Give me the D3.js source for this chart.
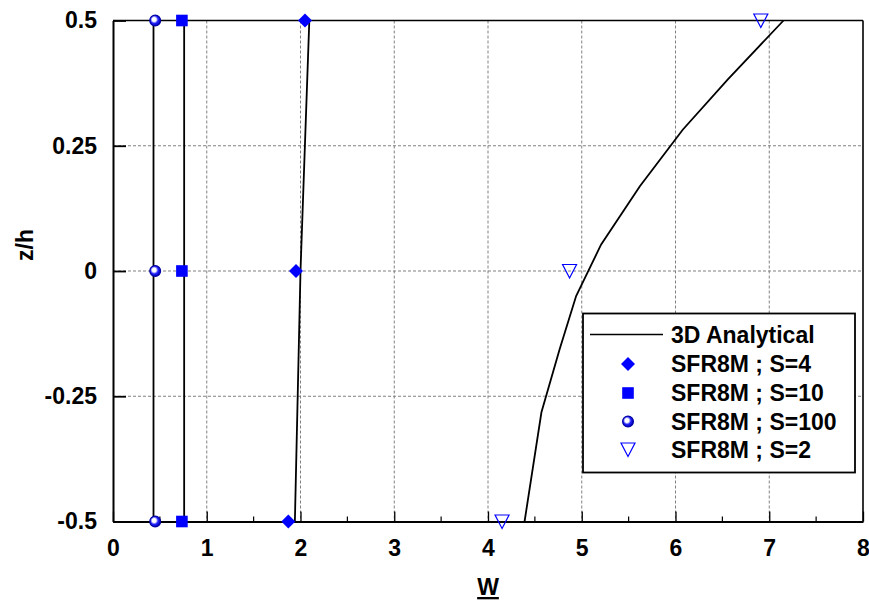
<!DOCTYPE html>
<html><head><meta charset="utf-8">
<script src="https://cdn.jsdelivr.net/npm/d3@7"></script>
<style>
body{margin:0;background:#fff;}
text{font-family:Arial,"Liberation Sans",sans-serif;font-weight:bold;}
</style></head>
<body>
<svg id="chart" width="869" height="601"></svg>
<script>
// ---- data ----
const xTicks = [0,1,2,3,4,5,6,7,8];
const yTicks = [-0.5,-0.25,0,0.25,0.5];
const yTickLabels = ["-0.5","-0.25","0","0.25","0.5"];
const zLevels = [-0.5, 0, 0.5];

// 3D analytical lines
const anaS100 = [[0.432,-0.5],[0.432,0],[0.432,0.5]];
const anaS10  = [[0.759,-0.5],[0.759,0],[0.759,0.5]];
const anaS4   = [[1.94,-0.5],[2.0,0],[2.094,0.5]];
const anaS2   = [[4.39,-0.5],[4.57,-0.282],[4.764,-0.156],[4.94,-0.05],[5.207,0.053],[5.62,0.169],[6.077,0.282],[6.556,0.382],[7.152,0.5]];

// SFR8M results (w at z/h = -0.5, 0, 0.5)
const sfrS4   = [1.87, 1.952, 2.048];
const sfrS10  = [0.735, 0.735, 0.735];
const sfrS100 = [0.45, 0.45, 0.45];
const sfrS2   = [4.15, 4.87, 6.91];

const legendLabels = ["3D Analytical","SFR8M ; S=4","SFR8M ; S=10","SFR8M ; S=100","SFR8M ; S=2"];

// ---- layout ----
const svg = d3.select("#chart");
const L = 113, R = 863, T = 20.5, B = 521.5;
const x = d3.scaleLinear().domain([0,8]).range([L,R]);
const y = d3.scaleLinear().domain([-0.5,0.5]).range([B,T]);
const blue = "#0000ff";
const FS = 23;

const defs = svg.append("defs");
const rg = defs.append("radialGradient").attr("id","ball").attr("cx","42%").attr("cy","42%").attr("r","60%")
  .attr("fx","40%").attr("fy","40%");
rg.append("stop").attr("offset","0%").attr("stop-color","#ffffff");
rg.append("stop").attr("offset","30%").attr("stop-color","#ffffff");
rg.append("stop").attr("offset","60%").attr("stop-color","#2020ff");
rg.append("stop").attr("offset","100%").attr("stop-color","#0000b0");

// grid
const grid = svg.append("g");
grid.selectAll("line.gx").data(xTicks.filter(d=>d>0&&d<8)).enter().append("line")
  .attr("x1",d=>x(d)).attr("x2",d=>x(d)).attr("y1",T).attr("y2",B)
  .attr("stroke","#808080").attr("stroke-width",1).attr("stroke-dasharray","3,2");
grid.selectAll("line.gy").data(yTicks.filter(d=>d>-0.5&&d<0.5)).enter().append("line")
  .attr("x1",L).attr("x2",R).attr("y1",d=>y(d)).attr("y2",d=>y(d))
  .attr("stroke","#808080").attr("stroke-width",1).attr("stroke-dasharray","3,2");

// frame top/right
svg.append("line").attr("x1",L).attr("x2",R).attr("y1",T).attr("y2",T).attr("stroke","#000").attr("stroke-width",1.6);
svg.append("line").attr("x1",R).attr("x2",R).attr("y1",T).attr("y2",B).attr("stroke","#000").attr("stroke-width",1.6);

// axes
const xAxis = d3.axisBottom(x).tickValues(xTicks).tickSizeInner(-10).tickSizeOuter(0).tickPadding(18).tickFormat(d3.format("d"));
const gx = svg.append("g").attr("transform",`translate(0,${B})`).call(xAxis);
gx.select(".domain").attr("stroke-width",2);
gx.selectAll(".tick line").attr("stroke-width",1.3);
gx.selectAll(".tick text").attr("font-size",FS).attr("font-weight","bold").attr("fill","#000")
  .attr("font-family","Arial, 'Liberation Sans', sans-serif");
// minor x ticks
const minorX = d3.range(0.5,8,1);
svg.append("g").selectAll("line").data(minorX).enter().append("line")
  .attr("x1",d=>x(d)).attr("x2",d=>x(d)).attr("y1",B).attr("y2",B-5).attr("stroke","#000").attr("stroke-width",1.2);

const yAxis = d3.axisLeft(y).tickValues(yTicks).tickSizeInner(-13).tickSizeOuter(0).tickPadding(16)
  .tickFormat((d,i)=>yTickLabels[i]);
const gy = svg.append("g").attr("transform",`translate(${L},0)`).call(yAxis);
gy.select(".domain").attr("stroke-width",2);
gy.selectAll(".tick line").attr("stroke-width",1.8);
gy.selectAll(".tick text").attr("font-size",FS).attr("font-weight","bold").attr("fill","#000")
  .attr("font-family","Arial, 'Liberation Sans', sans-serif");

// axis titles
svg.append("text").attr("x",(L+R)/2).attr("y",595).attr("text-anchor","middle")
  .attr("font-size",FS).attr("text-decoration","underline").text("W");
svg.append("text").attr("transform","translate(33,245) rotate(-90)").attr("text-anchor","middle")
  .attr("font-size",FS).text("z/h");

// analytical lines
const line = d3.line().x(d=>x(d[0])).y(d=>y(d[1]));
[anaS100, anaS10, anaS4, anaS2].forEach(a=>{
  svg.append("path").attr("d",line(a)).attr("fill","none").attr("stroke","#000").attr("stroke-width",1.8);
});

// markers
function drawDiamond(g,cx,cy){
  g.append("path").attr("d","M0,-7L7,0L0,7L-7,0Z").attr("transform",`translate(${cx},${cy})`).attr("fill",blue);
}
function drawSquare(g,cx,cy){
  g.append("rect").attr("x",cx-5.8).attr("y",cy-5.8).attr("width",11.6).attr("height",11.6).attr("fill",blue);
}
function drawBall(g,cx,cy){
  g.append("circle").attr("cx",cx).attr("cy",cy).attr("r",5.4).attr("fill","url(#ball)").attr("stroke","#0000a0").attr("stroke-width",1.2);
}
function drawTri(g,cx,cy){
  g.append("path").attr("d","M-7,-6.5L7,-6.5L0,7Z").attr("transform",`translate(${cx},${cy})`)
    .attr("fill","none").attr("stroke",blue).attr("stroke-width",1.2);
}
const mk = svg.append("g");
zLevels.forEach((z,i)=>{
  drawDiamond(mk, x(sfrS4[i]), y(z));
  drawSquare(mk, x(sfrS10[i]), y(z));
  drawBall(mk, x(sfrS100[i]), y(z));
  drawTri(mk, x(sfrS2[i]), y(z));
});

// legend
const lg = svg.append("g");
lg.append("rect").attr("x",583).attr("y",313.5).attr("width",272).attr("height",159)
  .attr("fill","#fff").attr("stroke","#000").attr("stroke-width",1.8);
const rowY = [334.5, 364, 393, 421.5, 449.5];
lg.append("line").attr("x1",590).attr("x2",663).attr("y1",rowY[0]).attr("y2",rowY[0]).attr("stroke","#000").attr("stroke-width",1.6);
drawDiamond(lg, 628, rowY[1]);
drawSquare(lg, 628, rowY[2]);
drawBall(lg, 628, rowY[3]);
drawTri(lg, 628, rowY[4]);
legendLabels.forEach((t,i)=>{
  lg.append("text").attr("x",671).attr("y",rowY[i]).attr("dy","0.36em").attr("font-size",FS).text(t);
});
</script>
</body></html>
